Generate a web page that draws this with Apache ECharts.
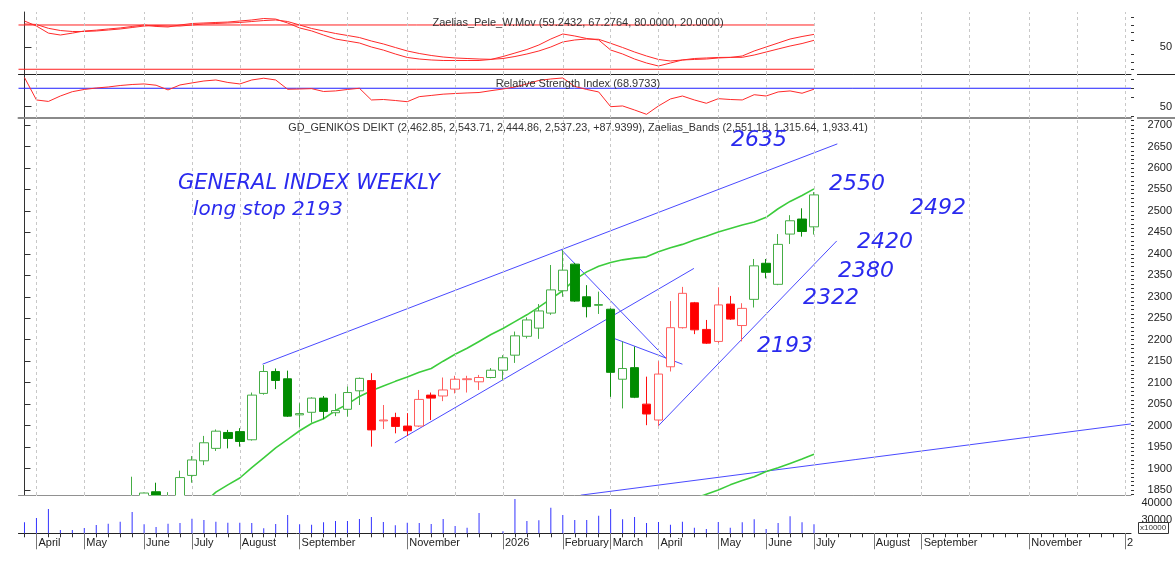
<!DOCTYPE html>
<html>
<head>
<meta charset="utf-8">
<script src="https://cdn.jsdelivr.net/npm/echarts@6/dist/echarts.min.js"></script>
<style>
html,body{margin:0;padding:0;background:#fff;}
#chart{width:1175px;height:563px;}
</style>
</head>
<body>
<div id="chart"></div>
<script>
// weekly bars, index 0 = last week of March 2025, axis runs to index 92
var weekCount = 93;
var gridMonths = [1,5,10,14,18,23,27,32,36,40,45,49,53,58,62,66,71,75,79,84,88,92];
var labelMonths = [1,5,10,14,18,23,32,40,45,49,53,58,62,66,71,75,84,92];
var labelNames = ['April','May','June','July','August','September','November','2026','February','March','April','May','June','July','August','September','November','2'];

// OHLC (price)
var opens  = [1690,1660,1560,1600,1640,1690,1710,1740,1765,1795,1820,1846,1825,1832,1884,1918,1947,1984,1986,1967,2075,2126,2109,2025,2031,2064,2030,2038,2081,2105,2011,2019,1999,1999,2071,2069,2085,2107,2102,2112,2129,2164,2208,2227,2262,2314,2376,2300,2280,2271,2108,2135,2050,2013,2137,2228,2286,2224,2196,2283,2233,2294,2378,2329,2446,2481,2462.85];
var highs  = [1700,1665,1610,1645,1695,1720,1750,1775,1805,1881,1844,1867,1845,1895,1929,1976,1991,1990,1994,2077,2141,2133,2128,2052,2066,2069,2074,2091,2112,2122,2048,2030,2029,2083,2077,2112,2116,2116,2118,2134,2164,2219,2252,2283,2374,2409,2379,2327,2312,2273,2196,2184,2114,2150,2290,2323,2288,2246,2322,2302,2285,2388,2388,2446,2490,2506,2543.71];
var lows   = [1650,1550,1470,1595,1635,1680,1700,1730,1755,1790,1800,1815,1810,1825,1867,1908,1941,1947,1951,1965,2072,2085,2020,1996,2007,2015,2022,2021,2048,1951,1992,1982,1976,1997,2013,2057,2075,2077,2083,2110,2106,2146,2203,2202,2258,2300,2288,2252,2260,2067,2040,2064,2001,1999,2126,2226,2213,2190,2192,2246,2196,2275,2343,2327,2423,2440,2444.86];
var closes = [1660,1560,1600,1640,1690,1710,1740,1765,1795,1835,1843,1830,1832,1879,1920,1960,1987,1970,1963,2071,2126,2105,2022,2028,2064,2033,2035,2077,2110,1990,2013,1998,1988,2061,2064,2083,2108,2109,2112,2129,2158,2209,2246,2267,2316,2362,2290,2277,2282,2124,2133,2066,2027,2120,2228,2308,2223,2192,2281,2248,2273,2372,2357,2422,2477,2452,2537.23];
// 1 = green candle, 0 = red candle
var candleGreen = [1,1,1,1,1,1,1,1,1,1,1,1,1,1,1,1,1,1,1,1,1,1,1,1,1,1,1,1,1,0,0,0,0,0,0,0,0,0,0,1,1,1,1,1,1,1,1,1,1,1,1,1,0,0,0,0,0,0,0,0,0,1,1,1,1,1,1];

// volume (x10000)
var volumes = [28600,31200,36600,24000,24000,25200,27000,27800,29000,34800,27400,25800,27800,28200,30800,30000,29000,28400,28400,28200,25000,27600,33000,27400,27200,28600,29400,29400,30600,31800,28800,26800,28400,28200,27600,30600,26400,25400,34200,22300,23200,42600,29400,29800,37400,33000,30000,30000,32600,36600,30400,31800,28200,28800,27200,29000,25400,24600,28800,25400,28600,30400,24600,28200,32200,28600,27400];

// Zaelias bands (upper and middle visible)
var bandUpper = [null,null,null,null,null,null,null,null,null,null,null,null,null,null,null,1820,1845,1862,1878,1902,1925,1948,1968,1988,2005,2016,2035,2050,2068,2081,2092,2103,2113,2124,2133,2150,2166,2180,2196,2212,2226,2242,2258,2276,2295,2314,2340,2358,2371,2380,2386,2390,2393,2405,2414,2422,2432,2441,2451,2459,2467,2474,2485,2505,2522,2536,2551.18];
var bandMiddle = [null,null,null,null,null,null,null,null,null,null,null,null,null,null,null,null,null,null,null,null,null,null,null,null,null,null,null,null,null,null,null,null,null,null,null,null,null,null,null,null,null,null,null,null,null,null,null,null,null,null,null,null,null,null,null,1818,1830,1840,1850,1862,1872,1881,1893,1902,1912,1922,1933.41];

// oscillators
var wmovFast = [85.4,78.6,69,66.4,69,71.9,73,74.6,76,78,80,78,77.3,80,82,82.7,83.4,84,85.4,86.8,88.8,88,82.7,76,72,66.4,61,58.3,55.6,50.2,46,40.7,36,33.9,32.6,31.9,31.9,31.9,31.9,33.3,37.3,42,46.8,52.9,61,67.8,65.1,61.7,59.7,46.1,40.7,33.9,28.5,24.4,28.5,32.6,33.3,33.9,35.3,36,38,44.8,50.2,55.6,61,64.4,67.28];
var wmovSlow = [81.4,80.7,75.5,72.5,71.2,71.2,71.9,73.2,74.6,76.6,78.6,79.3,78.6,78.6,80,81.4,82,82.7,83.4,84.7,86,86.8,84.7,80,75.3,71.9,68.5,65.8,63,58.3,54.3,49.5,44.8,41.4,38.7,36.6,35.3,34.6,33.9,33.5,34.6,37.3,40.7,44.8,50.2,57,59.7,61,60.6,55.2,49.5,43.4,38,33.3,31.2,32.6,34.6,35.3,36,36.2,36.2,39.3,43.4,47.5,51.5,54.9,59.24];
var wmovLevels = [80, 20];
var rsi = [81.7,57.3,55.7,61.6,66.3,68.7,70.3,71.4,73,74.1,74.7,73.3,68.2,73.6,75.8,77.9,79,76.3,74.7,79,80.9,79,68.9,69.2,69.6,66.5,67.1,68.7,70,57.3,57.8,56.7,55.4,60.9,62.2,63.6,64.3,64.9,65.4,67.4,69.2,71.4,74.7,78.5,80.1,81.2,72,68.7,66,50,50.8,46.4,41.7,50.8,58.4,61.6,57.3,53.7,58.7,57.8,57.3,63,61.6,66,67.1,64.6,68.97];
var rsiLevel = 70;

// hand drawn trend lines [week index, price]
var upperChannel = [[19.9,2143],[67.95,2656]];
var lowerChannel = [[30.96,1960],[55.96,2366]];
var downLine     = [[44.9,2409],[54.1,2143]];
var shortLine    = [[48.9,2207],[55.0,2143]];
var supportLine  = [[52.97,1999],[67.9,2430]];
var longLine     = [[46.5,1838],[92.5,2004]];

// axis ticks
var priceLabels = [];
for (var p = 1850; p <= 2700; p += 50) priceLabels.push(p);
var priceMinor = [];
for (var q = 1840; q <= 2710; q += 10) priceMinor.push(q);

var weeks = [];
for (var w = 0; w < weekCount; w++) weeks.push(String(w));

// hollow when close > open, filled otherwise
var candleData = [];
for (var k = 0; k < opens.length; k++) {
	var g = candleGreen[k] === 1;
	var filled = closes[k] < opens[k];
	var fill = filled ? (g ? '#008c00' : '#ff0000') : '#ffffff';
	var edge = g ? (filled ? '#0a8c0a' : '#45ad45') : (filled ? '#ff1010' : '#ff5f5f');
	candleData.push({
		value: [opens[k], closes[k], lows[k], highs[k]],
		itemStyle: {color: fill, color0: fill, borderColor: edge, borderColor0: edge}
	});
}

var gridLeft = 18.5, gridWidth = 1118.8;
var dash = {color: '#c8c8c8', type: [3, 3], width: 1};
var monthMarks = {
	silent: true, symbol: 'none', label: {show: false},
	lineStyle: dash,
	data: gridMonths.map(function (m) { return {xAxis: m}; })
};

function catAxis(gi, lineColor, lineWidth) {
	return {type: 'category', gridIndex: gi, data: weeks, boundaryGap: true,
		axisLine: {show: true, lineStyle: {color: lineColor, width: lineWidth}},
		axisTick: {show: false}, axisLabel: {show: false}, splitLine: {show: false}};
}
function valAxisX(gi) {
	return {type: 'value', gridIndex: gi, min: -0.5, max: weekCount - 0.5, show: false};
}
function rightAxis(gi, min, max, labels, majorLen) {
	return {type: 'value', gridIndex: gi, position: 'right', min: min, max: max, scale: true,
		axisLine: {show: true, lineStyle: {color: '#333', width: 1}},
		axisTick: {show: true, customValues: labels, length: majorLen, lineStyle: {color: '#333'}},
		axisLabel: {show: true, customValues: labels, align: 'right', margin: 41,
			fontSize: 11, color: '#222', fontFamily: 'Liberation Sans',
			formatter: function (v) { return String(v); }},
		splitLine: {show: false}};
}
function minorAxis(gi, min, max, ticks) {
	return {type: 'value', gridIndex: gi, position: 'right', min: min, max: max, scale: true,
		axisLine: {show: false},
		axisTick: {show: true, customValues: ticks, length: 3, lineStyle: {color: '#333'}},
		axisLabel: {show: false}, splitLine: {show: false}};
}

var option = {
	animation: false,
	backgroundColor: '#ffffff',
	grid: [
		{left: gridLeft, width: gridWidth, top: 12, height: 62},
		{left: gridLeft, width: gridWidth, top: 74, height: 44},
		{left: gridLeft, width: gridWidth, top: 118, height: 377},
		{left: gridLeft, width: gridWidth, top: 495, height: 38.3}
	],
	xAxis: [
		catAxis(0, '#222', 1), valAxisX(0),
		catAxis(1, '#8a8a8a', 2), valAxisX(1),
		catAxis(2, '#222', 1), valAxisX(2),
		{type: 'category', gridIndex: 3, data: weeks, boundaryGap: true,
			axisLine: {show: true, lineStyle: {color: '#222', width: 1}},
			axisTick: {show: true, interval: 0, alignWithLabel: true, length: 4, lineStyle: {color: '#333'}},
			axisLabel: {show: false}, splitLine: {show: false}},
		{type: 'value', gridIndex: 3, min: -0.5, max: weekCount - 0.5, position: 'bottom',
			axisLine: {show: false},
			axisTick: {show: true, customValues: labelMonths, length: 16, lineStyle: {color: '#777'}},
			axisLabel: {show: true, customValues: labelMonths, align: 'left', margin: 4,
				padding: [0, 0, 0, 2], fontSize: 11, color: '#222', fontFamily: 'Liberation Sans',
				formatter: function (v) { return labelNames[labelMonths.indexOf(v)] || ''; }},
			splitLine: {show: false}}
	],
	yAxis: [
		rightAxis(0, 13.6, 97.6, [50], 7), minorAxis(0, 13.6, 97.6, [20,30,40,60,70,80,90]),
		rightAxis(1, 37.7, 85.5, [50], 7), minorAxis(1, 37.7, 85.5, [40,60,70,80]),
		rightAxis(2, 1838.4, 2716.3, priceLabels, 6), minorAxis(2, 1838.4, 2716.3, priceMinor),
		rightAxis(3, 22000, 45000, [30000, 40000], 6), minorAxis(3, 22000, 45000, [25000,35000])
	],
	series: [
		// W.Mov panel
		{type: 'line', name: 'wmovFast', xAxisIndex: 0, yAxisIndex: 0, data: wmovFast,
			symbol: 'none', lineStyle: {color: '#ff2a2a', width: 1}},
		{type: 'line', name: 'wmovSlow', xAxisIndex: 0, yAxisIndex: 0, data: wmovSlow,
			symbol: 'none', lineStyle: {color: '#ff2a2a', width: 1}},
		{type: 'line', name: 'level80', xAxisIndex: 1, yAxisIndex: 0,
			data: [[-0.5, wmovLevels[0]], [opens.length - 1, wmovLevels[0]]],
			symbol: 'none', lineStyle: {color: '#ff2020', width: 1}, markLine: monthMarks, z: 1},
		{type: 'line', name: 'level20', xAxisIndex: 1, yAxisIndex: 0,
			data: [[-0.5, wmovLevels[1]], [opens.length - 1, wmovLevels[1]]],
			symbol: 'none', lineStyle: {color: '#ff2020', width: 1}},
		// RSI panel
		{type: 'line', name: 'rsi70', xAxisIndex: 3, yAxisIndex: 2,
			data: [[-0.5, rsiLevel], [weekCount - 0.5, rsiLevel]],
			symbol: 'none', lineStyle: {color: '#2020ff', width: 1}, markLine: monthMarks, z: 1},
		{type: 'line', name: 'rsi', xAxisIndex: 2, yAxisIndex: 2, data: rsi,
			symbol: 'none', lineStyle: {color: '#ff2a2a', width: 1}},
		// price panel
		{type: 'line', name: 'upperChannel', xAxisIndex: 5, yAxisIndex: 4, data: upperChannel,
			symbol: 'none', lineStyle: {color: '#4a4aff', width: 1}, markLine: monthMarks, z: 1},
		{type: 'line', name: 'lowerChannel', xAxisIndex: 5, yAxisIndex: 4, data: lowerChannel,
			symbol: 'none', lineStyle: {color: '#4a4aff', width: 1}},
		{type: 'line', name: 'downLine', xAxisIndex: 5, yAxisIndex: 4, data: downLine,
			symbol: 'none', lineStyle: {color: '#4a4aff', width: 1}},
		{type: 'line', name: 'shortLine', xAxisIndex: 5, yAxisIndex: 4, data: shortLine,
			symbol: 'none', lineStyle: {color: '#4a4aff', width: 1}},
		{type: 'line', name: 'supportLine', xAxisIndex: 5, yAxisIndex: 4, data: supportLine,
			symbol: 'none', lineStyle: {color: '#4a4aff', width: 1}},
		{type: 'line', name: 'longLine', xAxisIndex: 5, yAxisIndex: 4, data: longLine,
			symbol: 'none', lineStyle: {color: '#4a4aff', width: 1}},
		{type: 'line', name: 'bandUpper', xAxisIndex: 4, yAxisIndex: 4, data: bandUpper,
			symbol: 'none', lineStyle: {color: '#3ccc3c', width: 1.6}},
		{type: 'line', name: 'bandMiddle', xAxisIndex: 4, yAxisIndex: 4, data: bandMiddle,
			symbol: 'none', lineStyle: {color: '#3ccc3c', width: 1.6}},
		{type: 'candlestick', name: 'GD_GENIKOS DEIKT', xAxisIndex: 4, yAxisIndex: 4,
			data: candleData, barWidth: 9, clip: true, z: 5},
		// volume panel (drawn above the mask that hides candle overflow)
		{type: 'bar', name: 'volume', xAxisIndex: 6, yAxisIndex: 6, data: volumes,
			barWidth: 1, itemStyle: {color: '#3333ff'}, clip: true, z: 30},
		{type: 'line', name: 'volMonths', xAxisIndex: 7, yAxisIndex: 6, data: [],
			symbol: 'none', markLine: monthMarks, z: 30}
	],
	graphic: [
		// mask for candle bodies running below the price panel
		{type: 'rect', z: 10, silent: true, shape: {x: 0, y: 495.6, width: 1136.6, height: 37.4}, style: {fill: '#ffffff'}},
		{type: 'text', x: 578, y: 23, z: 50, style: {text: 'Zaelias_Pele_W.Mov (59.2432, 67.2764, 80.0000, 20.0000)',
			fill: '#333', font: '11px "Liberation Sans"', textAlign: 'center', textVerticalAlign: 'middle'}},
		{type: 'text', x: 578, y: 84, z: 50, style: {text: 'Relative Strength Index (68.9733)',
			fill: '#333', font: '11px "Liberation Sans"', textAlign: 'center', textVerticalAlign: 'middle'}},
		{type: 'text', x: 578, y: 128, z: 50, style: {text: 'GD_GENIKOS DEIKT (2,462.85, 2,543.71, 2,444.86, 2,537.23, +87.9399), Zaelias_Bands (2,551.18, 1,315.64, 1,933.41)',
			fill: '#333', font: '10.8px "Liberation Sans"', textAlign: 'center', textVerticalAlign: 'middle'}},
		{type: 'line', z: 50, shape: {x1: 1137, y1: 74.5, x2: 1175, y2: 74.5}, style: {stroke: '#222', lineWidth: 1}},
		{type: 'line', z: 50, shape: {x1: 1137, y1: 118, x2: 1175, y2: 118}, style: {stroke: '#8a8a8a', lineWidth: 2}},
		{type: 'rect', z: 60, shape: {x: 1138.5, y: 522.5, width: 30, height: 11}, style: {fill: '#fff', stroke: '#333', lineWidth: 1}},
		{type: 'text', x: 1140, y: 528, z: 61, style: {text: 'x10000', fill: '#333', font: '8px "Liberation Sans"', textVerticalAlign: 'middle'}},
		// hand written notes
		{type: 'text', x: 178, y: 184, z: 70, style: {text: 'GENERAL INDEX WEEKLY', fill: '#2a2aee', font: 'italic 21px "DejaVu Sans"', textVerticalAlign: 'middle'}},
		{type: 'text', x: 193, y: 210, z: 70, style: {text: 'long stop 2193', fill: '#2a2aee', font: 'italic 20px "DejaVu Sans"', textVerticalAlign: 'middle'}},
		{type: 'text', x: 731, y: 140, z: 70, style: {text: '2635', fill: '#2a2aee', font: 'italic 22px "DejaVu Sans"', textVerticalAlign: 'middle'}},
		{type: 'text', x: 829, y: 184, z: 70, style: {text: '2550', fill: '#2a2aee', font: 'italic 22px "DejaVu Sans"', textVerticalAlign: 'middle'}},
		{type: 'text', x: 910, y: 208, z: 70, style: {text: '2492', fill: '#2a2aee', font: 'italic 22px "DejaVu Sans"', textVerticalAlign: 'middle'}},
		{type: 'text', x: 857, y: 242, z: 70, style: {text: '2420', fill: '#2a2aee', font: 'italic 22px "DejaVu Sans"', textVerticalAlign: 'middle'}},
		{type: 'text', x: 838, y: 271, z: 70, style: {text: '2380', fill: '#2a2aee', font: 'italic 22px "DejaVu Sans"', textVerticalAlign: 'middle'}},
		{type: 'text', x: 803, y: 298, z: 70, style: {text: '2322', fill: '#2a2aee', font: 'italic 22px "DejaVu Sans"', textVerticalAlign: 'middle'}},
		{type: 'text', x: 757, y: 346, z: 70, style: {text: '2193', fill: '#2a2aee', font: 'italic 22px "DejaVu Sans"', textVerticalAlign: 'middle'}}
	]
};

var chart = echarts.init(document.getElementById('chart'));
chart.setOption(option);
window.addEventListener('resize', function () { chart.resize(); });
</script>
</body>
</html>
